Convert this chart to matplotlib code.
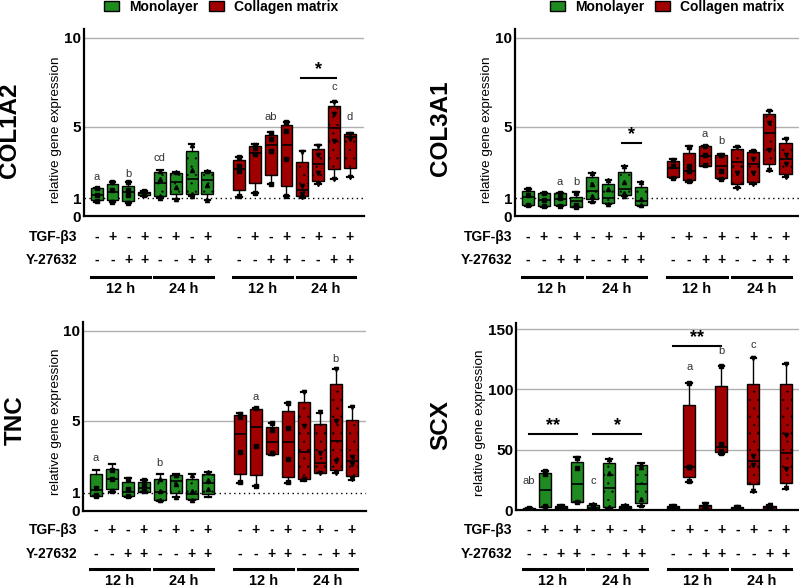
import matplotlib
matplotlib.use('Agg')
import matplotlib.pyplot as plt
from matplotlib.patches import Patch
from matplotlib.transforms import blended_transform_factory

plt.rcParams['font.family'] = ['Liberation Sans', 'DejaVu Sans']
plt.rcParams['hatch.linewidth'] = 0.35

# ---------------- data ----------------
groups = ['Monolayer', 'Collagen matrix']
tgf_signs = ['-', '+', '-', '+'] * 4
y27_signs = ['-', '-', '+', '+'] * 4
time_labels = ['12 h', '24 h', '12 h', '24 h']
genes = ['COL1A2', 'COL3A1', 'TNC', 'SCX']

col1a2_wlo = [0.80, 0.78, 0.73, 1.15, 1.00, 0.96, 1.12, 0.90, 1.09, 1.27, 1.78, 1.14, 1.03, 1.80, 2.06, 2.21]
col1a2_q1 = [0.88, 0.90, 0.86, 1.18, 1.12, 1.22, 1.24, 1.24, 1.44, 1.83, 2.30, 1.69, 1.12, 1.98, 2.62, 2.71]
col1a2_med = [1.20, 1.37, 1.33, 1.28, 1.83, 1.93, 2.06, 2.02, 2.62, 3.56, 4.00, 3.97, 1.46, 2.90, 4.92, 4.42]
col1a2_q3 = [1.55, 1.80, 1.70, 1.37, 2.45, 2.42, 3.67, 2.49, 3.13, 3.93, 4.55, 5.10, 3.05, 3.78, 6.16, 4.60]
col1a2_whi = [1.60, 1.93, 1.93, 1.40, 2.58, 2.45, 4.03, 2.53, 3.33, 4.03, 4.70, 5.30, 3.65, 3.99, 6.42, 4.65]
col1a2_pts = [[1.58, 1.2, 0.82], [1.92, 1.45, 0.8], [1.9, 1.45, 1.2, 0.75], [1.38, 1.3, 1.2],
              [2.55, 2.1, 1.15, 1.0], [2.45, 1.65, 0.97], [4.0, 2.6, 1.25, 1.1], [2.5, 1.75, 0.92],
              [3.3, 2.8, 2.55, 1.1], [4.0, 3.8, 3.5, 1.3], [4.65, 4.35, 3.65, 1.8], [5.3, 4.8, 3.2, 1.15],
              [3.6, 1.7, 1.25, 1.05], [3.95, 3.4, 2.4, 1.8], [6.4, 5.7, 4.2, 2.05], [4.63, 4.3, 2.2]]

col3a1_wlo = [0.58, 0.52, 0.55, 0.48, 0.80, 0.66, 1.10, 0.58, 2.12, 1.93, 2.83, 2.08, 1.59, 1.80, 2.55, 2.17]
col3a1_q1 = [0.62, 0.55, 0.60, 0.52, 0.94, 0.71, 1.18, 0.62, 2.21, 2.02, 2.83, 2.15, 1.81, 1.93, 2.90, 2.36]
col3a1_med = [1.05, 0.90, 0.95, 0.82, 1.40, 1.03, 1.50, 0.85, 2.68, 2.53, 3.39, 2.83, 3.02, 2.92, 4.64, 3.18]
col3a1_q3 = [1.42, 1.27, 1.27, 1.09, 2.17, 1.80, 2.45, 1.65, 3.09, 3.56, 3.93, 3.41, 3.78, 3.60, 5.71, 4.08]
col3a1_whi = [1.52, 1.30, 1.30, 1.33, 2.43, 2.00, 2.81, 1.93, 3.18, 3.95, 3.95, 3.48, 3.86, 3.67, 5.90, 4.33]
col3a1_pts = [[1.5, 1.2, 0.6], [1.28, 0.9, 0.55], [1.28, 1.0, 0.58], [1.3, 0.6, 0.5],
              [2.4, 1.8, 1.1, 0.85], [2.0, 1.5, 0.7], [2.8, 1.9, 1.3, 1.12], [1.9, 0.95, 0.6],
              [3.15, 2.8, 2.15], [3.9, 2.8, 2.5, 1.95], [3.95, 3.4, 2.85], [3.45, 2.5, 2.1],
              [3.85, 2.4, 1.6], [3.65, 3.2, 2.4, 1.8], [5.9, 5.2, 3.7, 2.6], [4.3, 3.4, 2.9, 2.2]]

tnc_wlo = [0.83, 1.05, 0.80, 1.04, 0.56, 0.76, 0.59, 0.76, 1.57, 1.39, 3.11, 1.57, 1.68, 2.09, 2.09, 1.70]
tnc_q1 = [0.83, 1.20, 0.83, 1.07, 0.61, 0.98, 0.65, 0.94, 2.06, 2.00, 3.17, 1.91, 1.76, 2.13, 2.28, 1.94]
tnc_med = [1.17, 1.76, 1.07, 1.30, 1.04, 1.68, 0.94, 1.57, 4.28, 4.65, 3.81, 3.81, 3.26, 2.69, 3.91, 2.80]
tnc_q3 = [2.04, 2.33, 1.59, 1.59, 1.76, 1.98, 1.76, 2.07, 5.33, 5.67, 4.69, 5.57, 6.04, 4.83, 7.07, 5.06]
tnc_whi = [2.28, 2.61, 1.81, 1.72, 2.04, 2.04, 2.05, 2.18, 5.43, 5.70, 4.91, 5.98, 6.59, 5.46, 7.89, 5.80]
tnc_pts = [[1.3, 0.9, 0.85], [2.3, 1.8, 1.1], [1.8, 1.2, 0.85], [1.7, 1.45, 1.1],
           [1.8, 1.1, 0.6], [2.0, 1.5, 0.8], [2.0, 1.1, 0.6], [2.15, 1.7, 1.2],
           [5.4, 5.2, 3.3, 1.6], [5.7, 3.6, 1.4], [4.9, 4.5, 3.2], [6.0, 4.6, 2.9, 1.6],
           [6.6, 4.7, 1.8], [5.5, 3.2, 2.1], [7.9, 5.0, 2.8, 2.1], [5.8, 3.0, 2.6, 1.8]]

scx_wlo = [0.3, 2.2, 0.5, 6.4, 0.3, 1.4, 0.4, 3.3, 0.4, 23.5, 1.0, 46.4, 0.4, 15.2, 1.0, 17.4]
scx_q1 = [0.5, 2.2, 0.8, 6.9, 0.5, 2.2, 0.5, 6.1, 0.5, 27.1, 1.2, 47.8, 0.5, 21.3, 1.2, 22.6]
scx_med = [1.0, 16.6, 2.0, 21.3, 2.0, 18.0, 1.5, 21.8, 2.0, 35.9, 3.0, 51.9, 1.5, 40.6, 2.5, 47.5]
scx_q3 = [1.8, 30.9, 3.5, 40.0, 4.0, 38.7, 3.5, 37.3, 3.5, 87.0, 4.5, 102.7, 2.5, 104.7, 3.5, 104.7]
scx_whi = [2.0, 32.6, 4.0, 43.7, 5.0, 42.3, 4.5, 38.7, 4.0, 105.5, 5.5, 119.6, 3.0, 126.2, 4.5, 121.0]
scx_pts = [[1.8, 1.0, 0.4], [32.5, 30.0, 3.0], [3.5, 2.0, 0.8], [43.5, 35.0, 7.0],
           [5.0, 2.0, 0.5], [42.0, 31.0, 2.5], [4.0, 2.0, 0.5], [38.5, 35.5, 9.0, 4.0],
           [3.5, 2.0, 0.5], [105.0, 36.0, 35.5, 24.0], [5.0, 4.0, 1.5], [119.0, 55.0, 48.5, 47.0],
           [2.5, 1.5, 0.5], [126.0, 45.0, 37.0, 15.5], [4.0, 2.5, 1.5], [121.0, 62.0, 34.0, 18.0]]

col1a2_letters = [(0, 'a', 1.9), (2, 'b', 2.05), (4, 'cd', 2.95), (10, 'ab', 5.25), (14, 'c', 6.95), (15, 'd', 5.3)]
col3a1_letters = [(2, 'a', 1.65), (3, 'b', 1.65), (10, 'a', 4.3), (11, 'b', 3.95)]
tnc_letters = [(0, 'a', 2.65), (4, 'b', 2.4), (9, 'a', 6.05), (14, 'b', 8.15)]
scx_letters = [(0, 'ab', 19.5), (4, 'c', 19.5), (9, 'a', 114.0), (11, 'b', 128.0), (13, 'c', 133.0)]

col1a2_sig = [(12.9, 15.1, 7.75, '*')]
col3a1_sig = [(5.85, 7.0, 4.08, '*')]
tnc_sig = []
scx_sig = [(0.0, 3.0, 63.0, '**'), (4.0, 7.0, 63.0, '*'), (9.0, 12.0, 136.0, '**')]

# ---------------- style / layout ----------------
GREEN = '#1f8a1f'
RED = '#a00000'
W, H = 799, 587
positions = list(range(8)) + list(range(9, 17))
colors = [GREEN] * 8 + [RED] * 8
hatched = [False] * 4 + [True] * 4 + [False] * 4 + [True] * 4
markers = ['s'] * 4 + ['^'] * 4 + ['s'] * 4 + ['v'] * 4

fig = plt.figure(figsize=(W / 100, H / 100), dpi=100)


def fx(px):
    return px / W


def fy(py):
    return 1 - py / H


panels = [
    dict(name='COL1A2', rect=(84, 29, 364, 216), ylim=(0, 10.5), ticks=[0, 1, 5, 10], grid=[5, 10],
         stats=(col1a2_wlo, col1a2_q1, col1a2_med, col1a2_q3, col1a2_whi), pts=col1a2_pts,
         letters=col1a2_letters, sig=col1a2_sig, dotted=True,
         gx=10, gy=130, lx=56, ly=130, rows=(237, 260, 277, 289), rowx=77),
    dict(name='COL3A1', rect=(515, 29, 800, 216), ylim=(0, 10.5), ticks=[0, 1, 5, 10], grid=[5, 10],
         stats=(col3a1_wlo, col3a1_q1, col3a1_med, col3a1_q3, col3a1_whi), pts=col3a1_pts,
         letters=col3a1_letters, sig=col3a1_sig, dotted=True,
         gx=441, gy=128, lx=487, ly=130, rows=(237, 260, 277, 289), rowx=512),
    dict(name='TNC', rect=(83, 322, 366, 511), ylim=(0, 10.5), ticks=[0, 1, 5, 10], grid=[5, 10],
         stats=(tnc_wlo, tnc_q1, tnc_med, tnc_q3, tnc_whi), pts=tnc_pts,
         letters=tnc_letters, sig=tnc_sig, dotted=True,
         gx=15, gy=420, lx=56, ly=422, rows=(530, 554, 569, 581), rowx=77),
    dict(name='SCX', rect=(516, 323, 800, 510), ylim=(0, 155), ticks=[0, 50, 100, 150], grid=[50, 100, 150],
         stats=(scx_wlo, scx_q1, scx_med, scx_q3, scx_whi), pts=scx_pts,
         letters=scx_letters, sig=scx_sig, dotted=False,
         gx=441, gy=425, lx=480, ly=423, rows=(530, 554, 569, 581), rowx=512),
]

for p in panels:
    x0, y0, x1, y1 = p['rect']
    ax = fig.add_axes([fx(x0), fy(y1), fx(x1 - x0), (y1 - y0) / H])
    ax.set_xlim(-0.8, 16.9)
    ax.set_ylim(*p['ylim'])
    for s in ['top', 'right']:
        ax.spines[s].set_visible(False)
    for s in ['left', 'bottom']:
        ax.spines[s].set_linewidth(1.6)
    ax.set_xticks([])
    ax.set_yticks(p['ticks'])
    ax.set_yticklabels([str(t) for t in p['ticks']], fontsize=11, fontweight='bold')
    ax.tick_params(axis='y', length=0, pad=2)
    for g in p['grid']:
        ax.axhline(g, color='#b0b0b0', lw=1.0, zorder=0)
    if p['dotted']:
        ax.axhline(1, color='black', lw=1.0, ls=(0, (1, 2.5)), zorder=0.5)

    wlo, q1, med, q3, whi = p['stats']
    stats = [dict(whislo=a, q1=b, med=c, q3=d, whishi=e) for a, b, c, d, e in zip(wlo, q1, med, q3, whi)]
    bp = ax.bxp(stats, positions=positions, widths=0.75, patch_artist=True, showfliers=False,
                manage_ticks=False, capwidths=0.35,
                boxprops=dict(linewidth=1.0, edgecolor='black'),
                medianprops=dict(color='black', linewidth=1.2),
                whiskerprops=dict(color='black', linewidth=1.0),
                capprops=dict(color='black', linewidth=1.6))
    for box, c, h in zip(bp['boxes'], colors, hatched):
        box.set_facecolor(c)
        if h:
            box.set_hatch('..')
    for pos, vals, m in zip(positions, p['pts'], markers):
        ax.plot([pos] * len(vals), vals, ls='none', marker=m, ms=3, color='black', zorder=5)

    for i, txt, yv in p['letters']:
        ax.text(positions[i], yv, txt, ha='center', va='bottom', fontsize=8, color='#333333')
    for a, b, yv, txt in p['sig']:
        ax.plot([a, b], [yv, yv], color='black', lw=1.5, clip_on=False)
        ax.text((a + b) / 2, yv, txt, ha='center', va='bottom', fontsize=13, fontweight='bold')

    # labels
    fig.text(fx(p['gx']), fy(p['gy']), p['name'], rotation=90, ha='center', va='center',
             fontsize=17.5, fontweight='bold')
    fig.text(fx(p['lx']), fy(p['ly']), 'relative gene expression', rotation=90, ha='center',
             va='center', fontsize=9.7)

    tr = blended_transform_factory(ax.transData, fig.transFigure)
    r_tgf, r_y, r_line, r_time = p['rows']
    fig.text(fx(p['rowx']), fy(r_tgf), 'TGF-β3', ha='right', va='center', fontsize=10, fontweight='bold')
    fig.text(fx(p['rowx']), fy(r_y), 'Y-27632', ha='right', va='center', fontsize=10, fontweight='bold')
    for pos, s1, s2 in zip(positions, tgf_signs, y27_signs):
        ax.text(pos, fy(r_tgf), s1, transform=tr, ha='center', va='center', fontsize=10, fontweight='bold')
        ax.text(pos, fy(r_y), s2, transform=tr, ha='center', va='center', fontsize=10, fontweight='bold')
    for k, lab in enumerate(time_labels):
        start = positions[4 * k]
        end = positions[4 * k + 3]
        ax.plot([start - 0.35, end + 0.35], [fy(r_line)] * 2, transform=tr, color='black', lw=2.2,
                clip_on=False)
        ax.text((start + end) / 2, fy(r_time), lab, transform=tr, ha='center', va='center',
                fontsize=10.5, fontweight='bold')

handles = [Patch(facecolor=GREEN, edgecolor='black', label=groups[0]),
           Patch(facecolor=RED, edgecolor='black', label=groups[1])]
for cx in (221, 667):
    fig.legend(handles=handles, loc='center', bbox_to_anchor=(fx(cx), fy(6.5)), ncol=2, frameon=False,
               prop=dict(weight='bold', size=10), handlelength=1.1, handleheight=0.7,
               columnspacing=0.8, handletextpad=0.7, borderpad=0.1)

fig.savefig('out.png', dpi=100)
